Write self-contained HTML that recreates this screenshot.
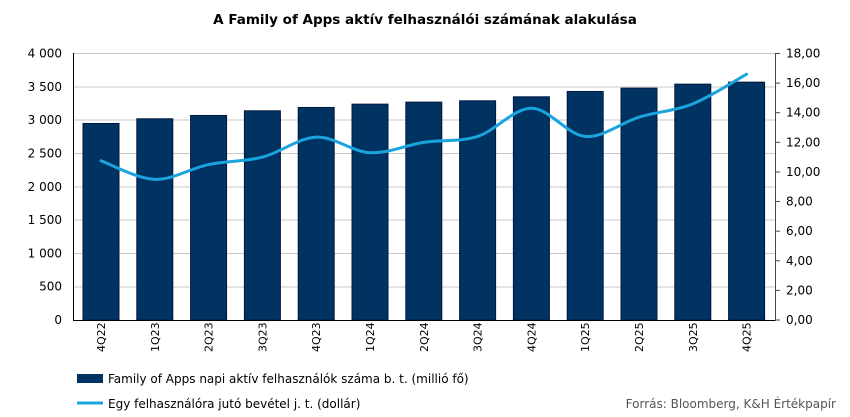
<!DOCTYPE html>
<html><head><meta charset="utf-8"><style>
body{margin:0;background:#fff;}
svg{display:block;font-family:"DejaVu Sans","Liberation Sans",sans-serif;}
</style></head><body>
<svg width="850" height="417" viewBox="0 0 850 417">
<text x="425" y="24" text-anchor="middle" font-size="13.5" font-weight="bold" fill="#000">A Family of Apps aktív felhasználói számának alakulása</text>
<g stroke="#c8c8c8" stroke-width="1">
<line x1="74" x2="775" y1="53.5" y2="53.5"/><line x1="74" x2="775" y1="87" y2="87"/>
<line x1="74" x2="775" y1="120" y2="120"/><line x1="74" x2="775" y1="153.5" y2="153.5"/>
<line x1="74" x2="775" y1="187" y2="187"/><line x1="74" x2="775" y1="220" y2="220"/>
<line x1="74" x2="775" y1="253.5" y2="253.5"/><line x1="74" x2="775" y1="287" y2="287"/>
</g>
<g fill="#003262" stroke="#001840" stroke-width="1" id="bars"></g>
<line x1="73.5" x2="73.5" y1="53" y2="320" stroke="#000"/>
<line x1="73" x2="775" y1="320.5" y2="320.5" stroke="#000"/>
<line x1="775.5" x2="775.5" y1="53" y2="321" stroke="#3a4a5a"/>
<g id="rt" stroke="#3a4a5a"></g>
<g font-size="12" fill="#000" text-anchor="end" id="lt"></g>
<g font-size="12" fill="#000" id="rl"></g>
<g font-size="11" fill="#000" id="xl"></g>
<path id="ln" fill="none" stroke="#1aa3dc" stroke-width="3" stroke-linecap="round"/>
<rect x="77" y="374" width="26" height="9" fill="#003262"/>
<text x="108" y="383" font-size="12">Family of Apps napi aktív felhasználók száma b. t. (millió fő)</text>
<line x1="77" x2="103" y1="403" y2="403" stroke="#1aa3dc" stroke-width="3"/>
<text x="108" y="408" font-size="12">Egy felhasználóra jutó bevétel j. t. (dollár)</text>
<text x="836" y="408" font-size="12" fill="#555" text-anchor="end">Forrás: Bloomberg, K&amp;H Értékpapír</text>
</svg>
<script>
var ns="http://www.w3.org/2000/svg";
function el(p,t,a,tx){var e=document.createElementNS(ns,t);for(var k in a)e.setAttribute(k,a[k]);if(tx!==undefined)e.textContent=tx;document.getElementById(p).appendChild(e);}
var q=["4Q22","1Q23","2Q23","3Q23","4Q23","1Q24","2Q24","3Q24","4Q24","1Q25","2Q25","3Q25","4Q25"];
var v=[2950,3020,3070,3140,3190,3240,3270,3290,3350,3430,3480,3540,3570];
var r=[10.75,9.5,10.5,11.0,12.35,11.3,12.0,12.4,14.3,12.4,13.7,14.6,16.6];
var pts=[];
for(var i=0;i<13;i++){var c=101+i*53.8;var y=320-v[i]/4000*266.5;
el("bars","rect",{x:c-18,y:y,width:36,height:320-y});
el("xl","text",{transform:"translate("+(c+4)+",352) rotate(-90)"},q[i]);
pts.push([c,320-r[i]/18*266.5]);}
var lab=["0","500","1 000","1 500","2 000","2 500","3 000","3 500","4 000"];
for(var j=0;j<=8;j++){var y=320-j*33.3;
el("lt","text",{x:62,y:y+4},lab[j]);}
for(var j=0;j<=9;j++){var y=320-j*266.5/9;
el("rl","text",{x:786,y:y+4},(j*2).toFixed(2).replace(".",","));
el("rt","line",{x1:775,x2:780,y1:y,y2:y});}
var d="M"+pts[0][0]+","+pts[0][1];
for(var i=0;i<12;i++){var p0=pts[Math.max(i-1,0)],p1=pts[i],p2=pts[i+1],p3=pts[Math.min(i+2,12)];
d+=" C"+(p1[0]+(p2[0]-p0[0])/6)+","+(p1[1]+(p2[1]-p0[1])/6)+" "+(p2[0]-(p3[0]-p1[0])/6)+","+(p2[1]-(p3[1]-p1[1])/6)+" "+p2[0]+","+p2[1];}
document.getElementById("ln").setAttribute("d",d);
</script>
</body></html>
